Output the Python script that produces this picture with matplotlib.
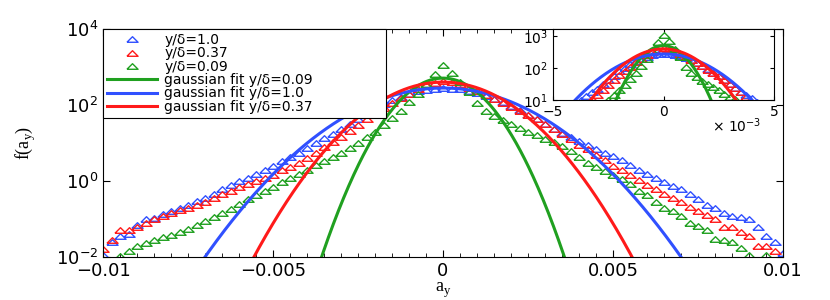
import numpy as np
import matplotlib
matplotlib.use("Agg")
import matplotlib.pyplot as plt
from matplotlib.ticker import FixedLocator, NullLocator, MultipleLocator

plt.rcParams['font.family'] = ['DejaVu Sans']

# bin centres of a_y (-0.01 .. 0.01, 81 bins)
a_bins = np.linspace(-0.01, 0.01, 81)

# log10 f(a_y), left tail -> centre -> right tail
log_f_10 = [-1.95, -1.6, -1.45, -1.4, -1.15, -1.0, -0.98, -0.88, -0.8, -0.72,
            -0.62, -0.52, -0.45, -0.33, -0.22, -0.1, 0.0, 0.08, 0.18, 0.28,
            0.4, 0.52, 0.63, 0.75, 0.88, 1.0, 1.12, 1.24, 1.36, 1.5,
            1.63, 1.76, 1.9, 2.02, 2.12, 2.22, 2.3, 2.36, 2.4, 2.43,
            2.44,
            2.43, 2.41, 2.37, 2.32, 2.25, 2.16, 2.07, 1.97, 1.86, 1.74,
            1.62, 1.5, 1.38, 1.26, 1.15, 1.05, 0.95, 0.85, 0.75, 0.65,
            0.55, 0.42, 0.3, 0.18, 0.08, -0.02, -0.12, -0.22, -0.35, -0.48,
            -0.62, -0.72, -0.85, -0.92, -0.95, -1.0, -1.2, -1.45, -1.6, -1.9]

log_f_037 = [-1.8, -1.55, -1.3, -1.3, -1.2, -1.1, -1.0, -0.92, -0.85, -0.77,
             -0.7, -0.62, -0.55, -0.45, -0.35, -0.27, -0.17, -0.08, 0.0, 0.08,
             0.17, 0.28, 0.38, 0.48, 0.6, 0.75, 0.9, 1.03, 1.17, 1.32,
             1.47, 1.62, 1.77, 1.92, 2.05, 2.18, 2.3, 2.42, 2.52, 2.58,
             2.62,
             2.6, 2.55, 2.46, 2.36, 2.27, 2.17, 2.06, 1.95, 1.85, 1.74,
             1.62, 1.5, 1.38, 1.25, 1.1, 0.95, 0.83, 0.68, 0.55, 0.4,
             0.28, 0.15, 0.03, -0.1, -0.22, -0.35, -0.45, -0.55, -0.68, -0.8,
             -0.9, -1.0, -1.2, -1.22, -1.35, -1.45, -1.72, -1.7, -1.85, -2.1]

log_f_009 = [-2.2, -2.3, -1.98, -1.85, -1.72, -1.62, -1.55, -1.48, -1.42, -1.34,
             -1.25, -1.15, -1.06, -0.95, -0.85, -0.74, -0.6, -0.48, -0.37, -0.27,
             -0.15, -0.02, 0.08, 0.18, 0.3, 0.42, 0.52, 0.62, 0.74, 0.86,
             1.0, 1.15, 1.3, 1.47, 1.65, 1.85, 2.08, 2.28, 2.55, 2.82,
             3.05,
             2.85, 2.6, 2.35, 2.05, 1.85, 1.72, 1.6, 1.5, 1.4, 1.3,
             1.2, 1.1, 1.02, 0.92, 0.8, 0.62, 0.48, 0.38, 0.27, 0.16,
             0.06, -0.08, -0.25, -0.38, -0.55, -0.72, -0.8, -0.92, -1.1, -1.18,
             -1.3, -1.52, -1.55, -1.6, -1.75, -1.95, -2.1, -1.95, -2.3, -2.3]

# gaussian fit parameters (peak height, sigma)
fit_peak = {"0.09": 510.0, "1.0": 280.0, "0.37": 400.0}
fit_sigma = {"0.09": 0.000767, "1.0": 0.001547, "0.37": 0.001208}

c_blue = '#3050ff'
c_red = '#ff1a1a'
c_green = '#20a020'
tri = [(-1, -0.5), (1, -0.5), (0, 0.5), (-1, -0.5)]

series = [("1.0", log_f_10, c_blue), ("0.37", log_f_037, c_red), ("0.09", log_f_009, c_green)]
fits = [("0.09", c_green), ("1.0", c_blue), ("0.37", c_red)]
a_fit = np.linspace(-0.01, 0.01, 801)


def draw(ax, lab=True):
    for name, lf, c in series:
        ax.plot(a_bins, 10 ** np.array(lf), ls='none', marker=tri, ms=8, mfc='none',
                mec=c, mew=1.0, label='y/\u03b4=' + name if lab else None)
    for name, c in fits:
        f = fit_peak[name] * np.exp(-a_fit ** 2 / (2 * fit_sigma[name] ** 2))
        ax.plot(a_fit, f, color=c, lw=2.2,
                label='gaussian fit y/\u03b4=' + name if lab else None)


fig = plt.figure(figsize=(8.3, 3), dpi=100)
ax = fig.add_axes([103 / 830, 43 / 300, 680 / 830, 228 / 300])
draw(ax)
ax.set_yscale('log')
ax.set_xlim(-0.01, 0.01)
ax.set_ylim(1e-2, 1e4)
ax.yaxis.set_major_locator(FixedLocator([1e-2, 1e0, 1e2, 1e4]))
ax.yaxis.set_minor_locator(NullLocator())
ax.set_xticks([-0.01, -0.005, 0, 0.005, 0.01])
ax.set_xticklabels(['\u22120.01', '\u22120.005', '0', '0.005', '0.01'])
ax.xaxis.set_minor_locator(MultipleLocator(0.0005))
ax.tick_params(which='both', direction='in', top=True, right=True, labelsize=13)
ax.tick_params(which='major', length=5)
ax.tick_params(which='minor', length=3)
ax.set_xlabel('a$_\\mathregular{y}$', family='Liberation Serif', fontsize=13, labelpad=1)
ax.set_ylabel('f(a$_\\mathregular{y}$)', family='Liberation Serif', fontsize=13, labelpad=13)

leg = ax.legend(loc='upper left', bbox_to_anchor=(0, 0, 283 / 680, 1), mode='expand',
                borderaxespad=0, fancybox=False, framealpha=1, edgecolor='k',
                fontsize=10, handlelength=3.6, handletextpad=0.5, labelspacing=-0.05,
                borderpad=0.3, numpoints=1)
leg.get_frame().set_linewidth(0.8)

ins = fig.add_axes([553 / 830, 200 / 300, 221 / 830, 71 / 300])
draw(ins, lab=False)
ins.set_yscale('log')
ins.set_xlim(-0.005, 0.005)
ins.set_ylim(10, 1700)
ins.yaxis.set_major_locator(FixedLocator([1e1, 1e2, 1e3]))
ins.yaxis.set_minor_locator(NullLocator())
ins.set_xticks([-0.005, 0, 0.005])
ins.set_xticklabels(['\u22125', '0', '5'])
ins.tick_params(which='both', direction='in', top=True, right=True, labelsize=10, length=3)
ins.text(0.72, -0.36, '\u00d7 10$^{-3}$', transform=ins.transAxes, fontsize=10,
         ha='left', va='center')

fig.savefig('out.png', dpi=100)
